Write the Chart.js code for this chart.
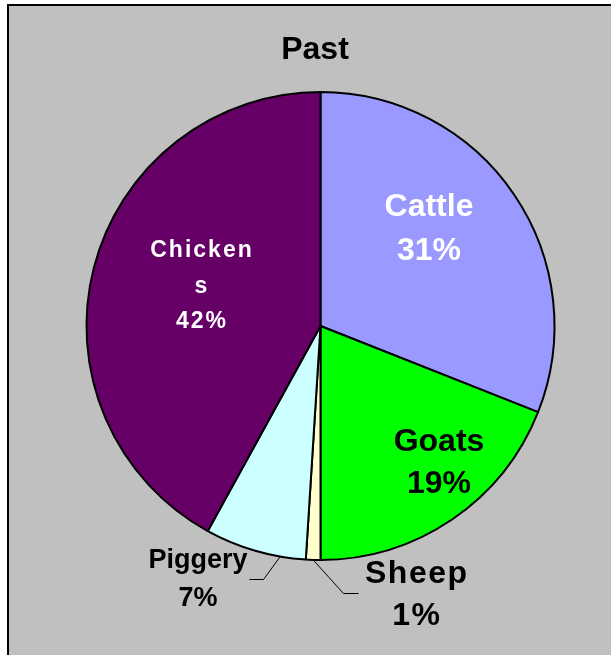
<!DOCTYPE html>
<html>
<head>
<meta charset="utf-8">
<script src="https://cdn.jsdelivr.net/npm/chart.js@4.4.0/dist/chart.umd.min.js"></script>
<style>
  html, body { margin: 0; padding: 0; background: #fff; }
  #frame {
    position: absolute; left: 7px; top: 4px; right: -10px; bottom: -10px;
    background: #c0c0c0;
    border-left: 2px solid #000; border-top: 2px solid #000;
  }
  #pie { position: absolute; left: 0; top: 0; }
</style>
</head>
<body>
<div id="frame"></div>
<canvas id="pie" width="611" height="655"></canvas>
<script>
const CATEGORIES = ["Cattle", "Goats", "Sheep", "Piggery", "Chickens"];
const SHARES = [31, 19, 1, 7, 42];
const SLICE_COLORS = ["#9999ff", "#00ff00", "#ffffcc", "#ccffff", "#660066"];
const TITLE = "Past";

// label placement: centre x, baselines of each line, font size, colour, spacing.
// leader: where along the slice edge the line leaves (0..1), then its elbow and end.
const LABEL_STYLE = [
  { x: 429, ys: [216, 260], size: 32, color: "#fff", spacing: 0 },
  { x: 439, ys: [451, 493], size: 32, color: "#000", spacing: 0 },
  { x: 416, ys: [583, 625], size: 32, color: "#000", spacing: 1.5,
    leader: { along: 0.5, path: [[343, 593], [358, 593]] } },
  { x: 198, ys: [568, 606], size: 27, color: "#000", spacing: 0,
    leader: { along: 0.25, path: [[263, 579], [249, 579]] } },
  { x: 201, ys: [257, 293, 328], size: 23, color: "#fff", spacing: 2, split: 7 },
];

const FONT = '"Liberation Sans", Arial, Helvetica, sans-serif';

const labelPlugin = {
  id: "sliceLabels",
  afterDraw(chart) {
    const ctx = chart.ctx;
    const arcs = chart.getDatasetMeta(0).data;
    ctx.save();
    ctx.textAlign = "center";
    ctx.textBaseline = "alphabetic";

    ctx.fillStyle = "#000";
    ctx.font = `bold 32px ${FONT}`;
    ctx.fillText(TITLE, 315, 59);

    CATEGORIES.forEach((name, i) => {
      const st = LABEL_STYLE[i];
      const lines = st.split
        ? [name.slice(0, st.split), name.slice(st.split)]
        : [name];
      lines.push(SHARES[i] + "%");

      if (st.leader) {
        const arc = arcs[i];
        const a = arc.startAngle + (arc.endAngle - arc.startAngle) * st.leader.along;
        const sx = arc.x + Math.cos(a) * arc.outerRadius;
        const sy = arc.y + Math.sin(a) * arc.outerRadius;
        ctx.strokeStyle = "#000";
        ctx.lineWidth = 1;
        ctx.beginPath();
        ctx.moveTo(sx, sy);
        st.leader.path.forEach(([px, py]) => ctx.lineTo(px + 0.5, py + 0.5));
        ctx.stroke();
      }

      ctx.fillStyle = st.color;
      ctx.font = `bold ${st.size}px ${FONT}`;
      ctx.letterSpacing = st.spacing + "px";
      lines.forEach((t, k) => ctx.fillText(t, st.x + st.spacing / 2, st.ys[k]));
      ctx.letterSpacing = "0px";
    });
    ctx.restore();
  }
};

new Chart(document.getElementById("pie"), {
  type: "pie",
  data: {
    labels: CATEGORIES,
    datasets: [{
      data: SHARES,
      backgroundColor: SLICE_COLORS,
      borderColor: "#000",
      borderWidth: 2,
    }]
  },
  options: {
    responsive: false,
    animation: false,
    radius: 234,
    layout: { padding: { left: 30, right: 0, top: 0, bottom: 3 } },
    plugins: {
      legend: { display: false },
      tooltip: { enabled: false },
      title: { display: false },
    }
  },
  plugins: [labelPlugin]
});
</script>
</body>
</html>
